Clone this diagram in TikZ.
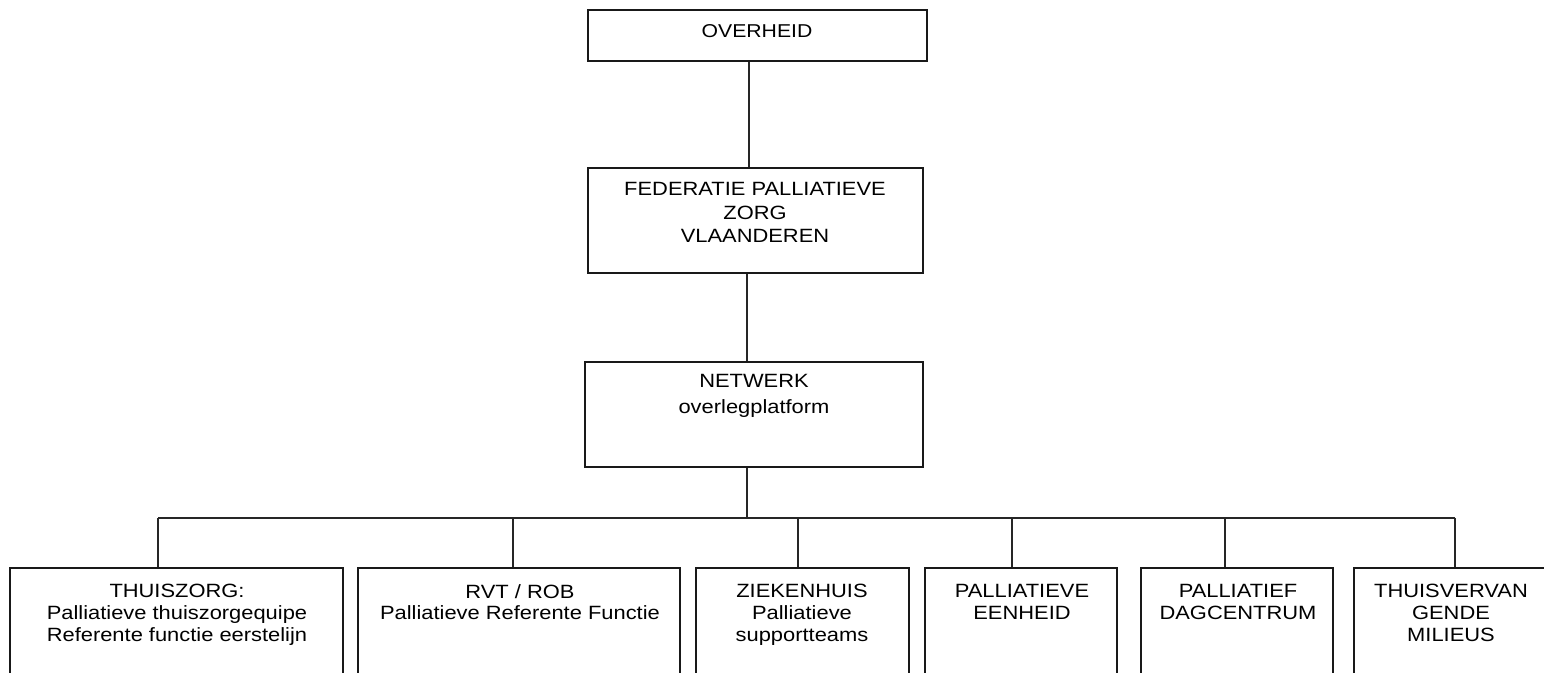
\documentclass[tikz,border=0pt]{standalone}
\usepackage{fontspec}
\setmainfont[FakeStretch=1.14]{Liberation Sans}
\begin{document}
\begin{tikzpicture}[x=0.5pt,y=-0.5pt,
  box/.style={draw=black!90,line width=1pt,rectangle,inner sep=0pt},
  lbl/.style={align=center,inner sep=0pt,font=\fontsize{9.6}{10.8}\selectfont,anchor=north},
  conn/.style={draw=black!85,line width=0.75pt}]
\useasboundingbox[fill=white] (0,0) rectangle (1544,673);
% boxes
\node[box,minimum width=169.5pt,minimum height=25.5pt] (ov) at (757.5,35.5) {};
\node[box,minimum width=167.5pt,minimum height=52.5pt] (fed) at (755.5,220.5) {};
\node[box,minimum width=169pt,minimum height=52.5pt] (net) at (754,414.5) {};
\node[box,minimum width=166.5pt,minimum height=61pt] (b1) at (176.5,629) {};
\node[box,minimum width=161pt,minimum height=61pt] (b2) at (519,629) {};
\node[box,minimum width=106.5pt,minimum height=61pt] (b3) at (802.5,629) {};
\node[box,minimum width=96pt,minimum height=61pt] (b4) at (1021,629) {};
\node[box,minimum width=96pt,minimum height=61pt] (b5) at (1237,629) {};
\node[box,minimum width=96pt,minimum height=61pt] (b6) at (1450,629) {};
% labels
\node[lbl,font=\fontsize{9.3}{10.8}\selectfont] (tov) at (757,24) {OVERHEID};
\node[lbl,font=\fontsize{9.6}{11.7}\selectfont] (tfed) at (755,182) {FEDERATIE PALLIATIEVE\\ZORG\\VLAANDEREN};
\node[lbl,font=\fontsize{9.6}{13}\selectfont] (tnet) at (754,374) {NETWERK\\overlegplatform};
\node[lbl] (t1) at (177,584) {THUISZORG:\\Palliatieve thuiszorgequipe\\Referente functie eerstelijn};
\node[lbl] (t2) at (520,584) {RVT / ROB\\Palliatieve Referente Functie};
\node[lbl] (t3) at (802,584) {ZIEKENHUIS\\Palliatieve\\supportteams};
\node[lbl] (t4) at (1022,584) {PALLIATIEVE\\EENHEID};
\node[lbl] (t5) at (1238,584) {PALLIATIEF\\DAGCENTRUM};
\node[lbl] (t6) at (1451,584) {THUISVERVAN\\GENDE\\MILIEUS};
% junctions
\coordinate (bus) at (747,518);
\coordinate (j1) at (158,518);
\coordinate (j2) at (513,518);
\coordinate (j3) at (798,518);
\coordinate (j4) at (1012,518);
\coordinate (j5) at (1225,518);
\coordinate (j6) at (1455,518);
\coordinate (s1) at (749,0);
\coordinate (s2) at (747,0);
% connectors
\draw[conn] (ov.south -| s1) -- (fed.north -| s1);
\draw[conn] (fed.south -| s2) -- (net.north -| s2);
\draw[conn] (net.south -| bus) -- (bus);
\draw[conn] (j1) -- (j6);
\foreach \i in {1,...,6}{\draw[conn] (j\i) -- (b\i.north -| j\i);}
\end{tikzpicture}
\end{document}
